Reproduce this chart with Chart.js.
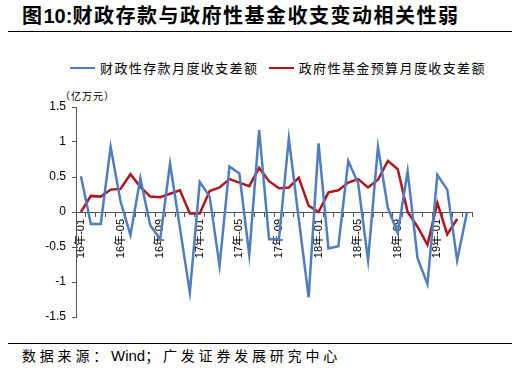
<!DOCTYPE html>
<html>
<head>
<meta charset="utf-8">
<script src="https://cdn.jsdelivr.net/npm/chart.js@4.4.0/dist/chart.umd.min.js"></script>
<style>
  body {
    margin: 0;
    width: 520px;
    height: 372px;
    background: #fff;
    position: relative;
    overflow: hidden;
    font-family: "Noto Sans CJK SC", sans-serif;
    color: #000;
  }
  .title {
    position: absolute;
    left: 22px;
    top: 1px;
    font-size: 20px;
    line-height: 28px;
    font-weight: bold;
    letter-spacing: 1.5px;
    white-space: nowrap;
  }
  .title .num { font-family: "Liberation Sans", Arial, sans-serif; letter-spacing: 0; }
  .rule {
    position: absolute;
    left: 8px;
    width: 504px;
    height: 1px;
    background: #000;
  }
  .legend {
    position: absolute;
    top: 58px;
    left: 70px;
    font-size: 13px;
    line-height: 20px;
    letter-spacing: 1.4px;
    white-space: nowrap;
  }
  .legend span.swatch {
    display: inline-block;
    width: 25px;
    height: 2px;
    vertical-align: middle;
    margin-right: 5px;
    position: relative;
    top: -1px;
  }
  .unit {
    position: absolute;
    left: 60px;
    top: 88px;
    font-size: 10px;
    letter-spacing: 1px;
  }
  .source {
    position: absolute;
    left: 22px;
    top: 344px;
    font-size: 14px;
    line-height: 22px;
    letter-spacing: 3.8px;
    white-space: nowrap;
  }
  .source .wind { font-family: "Liberation Sans", Arial, sans-serif; font-size: 15px; letter-spacing: 0; }
  .chart-box {
    position: absolute;
    left: 0;
    top: 90px;
    width: 520px;
    height: 245px;
  }
</style>
</head>
<body>
  <div class="title">图<span class="num">10:</span>财政存款与政府性基金收支变动相关性弱</div>
  <div class="rule" style="top:31px"></div>
  <div class="legend">
    <span class="swatch" style="background:#4F7EC0"></span>财政性存款月度收支差额
    <span class="swatch" style="background:#B0151C;margin-left:6px"></span>政府性基金预算月度收支差额
  </div>
  <div class="unit">（亿万元）</div>
  <div class="chart-box">
    <canvas id="mainChart" width="520" height="245"></canvas>
  </div>
  <div class="rule" style="top:343px"></div>
  <div class="source">数据来源：<span class="wind">Wind</span>；广发证券发展研究中心</div>

  <script>
    // categories: 16-01 .. 19-04
    let chartYears = ["16", "17", "18", "19"];
    let chartMonths = ["01", "02", "03", "04", "05", "06", "07", "08", "09", "10", "11", "12"];
    let chartCategories = [];
    chartYears.forEach(y => {
      chartMonths.forEach(m => {
        if (chartCategories.length < 40) chartCategories.push(y + "年-" + m);
      });
    });

    // series
    let depositLabel = "财政性存款月度收支差额";
    let depositValues = [
      0.51, -0.17, -0.17, 0.93, 0.15, -0.33, 0.48, -0.19, -0.39, 0.69, -0.23, -1.15,
      0.43, 0.22, -0.77, 0.65, 0.55, -0.61, 1.17, -0.39, -0.39, 1.05, -0.10, -1.22,
      0.98, -0.52, -0.49, 0.73, 0.41, -0.69, 0.93, 0.06, -0.30, 0.58, -0.66, -1.03,
      0.53, 0.32, -0.69, 0.00,
    ];

    let fundLabel = "政府性基金预算月度收支差额";
    let fundValues = [
      0.00, 0.23, 0.22, 0.32, 0.33, 0.54, 0.36, 0.22, 0.21, 0.26, 0.31, -0.02,
      -0.02, 0.30, 0.35, 0.47, 0.42, 0.37, 0.63, 0.44, 0.34, 0.35, 0.49, 0.09,
      0.00, 0.28, 0.31, 0.42, 0.47, 0.35, 0.46, 0.73, 0.61, 0.00, -0.21, -0.47,
      0.13, -0.32, -0.10, null,
    ];

    // y ticks
    let yTickMin = -1.5;
    let yTickMax = 1.5;
    let yTickStep = 0.5;

    let blueColor = "#4F7EC0";
    let redColor = "#B0151C";
    let axisColor = "#555555";
    let tickFont = "'Liberation Sans', Arial, sans-serif";

    let ctx = document.getElementById("mainChart").getContext("2d");
    new Chart(ctx, {
      type: "line",
      data: {
        labels: chartCategories,
        datasets: [
          {
            label: depositLabel,
            data: depositValues,
            borderColor: blueColor,
            backgroundColor: blueColor,
            borderWidth: 2.5,
            pointRadius: 0,
            tension: 0,
          },
          {
            label: fundLabel,
            data: fundValues,
            borderColor: redColor,
            backgroundColor: redColor,
            borderWidth: 2.5,
            pointRadius: 0,
            tension: 0,
          },
        ],
      },
      options: {
        responsive: false,
        animation: false,
        layout: {
          padding: { top: 17, bottom: 18, left: 0, right: 48 },
        },
        plugins: {
          legend: { display: false },
          tooltip: { enabled: false },
        },
        scales: {
          x: {
            type: "category",
            position: { y: 0 },
            offset: true,
            afterFit: function (scale) {
              scale.height = 0;
            },
            grid: {
              display: true,
              offset: true,
              drawOnChartArea: false,
              drawTicks: true,
              tickLength: 4,
              color: axisColor,
            },
            border: { display: true, color: axisColor, width: 1 },
            ticks: {
              autoSkip: false,
              minRotation: 90,
              maxRotation: 90,
              padding: 3,
              color: "#000",
              font: { family: "'Liberation Sans', 'Noto Sans CJK SC', sans-serif", size: 11 },
              callback: function (value, index) {
                return index % 4 === 0 ? this.getLabelForValue(value) : "";
              },
            },
          },
          y: {
            min: yTickMin,
            max: yTickMax,
            afterFit: function (scale) {
              scale.width = 76;
            },
            grid: {
              display: true,
              drawOnChartArea: false,
              drawTicks: true,
              tickLength: 4,
              color: axisColor,
            },
            border: { display: true, color: axisColor, width: 1 },
            ticks: {
              stepSize: yTickStep,
              padding: 6,
              color: "#000",
              font: { family: tickFont, size: 12 },
              callback: function (value) {
                return String(Math.round(value * 10) / 10);
              },
            },
          },
        },
      },
    });
  </script>
</body>
</html>
